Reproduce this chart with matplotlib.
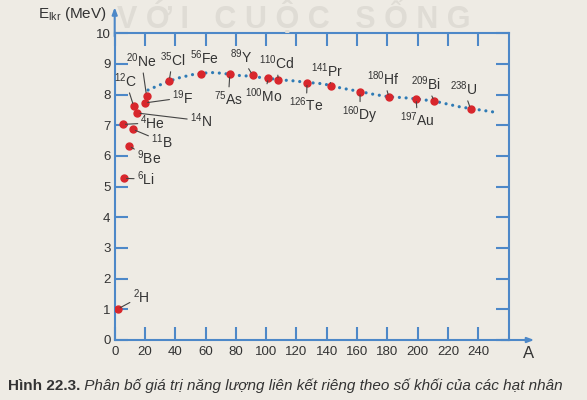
import matplotlib
matplotlib.use("Agg")
import matplotlib.pyplot as plt

plt.rcParams['font.family'] = ['Liberation Sans', 'DejaVu Sans']
plt.rcParams['mathtext.fontset'] = 'custom'
plt.rcParams['mathtext.rm'] = 'Liberation Sans'
plt.rcParams['mathtext.it'] = 'Liberation Sans:italic'

# nuclei: mass number, symbol, position (A, E in MeV)
so_khoi = ['2', '6', '9', '4', '11', '12', '14', '19', '20', '35', '56', '75',
           '89', '100', '110', '126', '141', '160', '180', '197', '209', '238']
ky_hieu = ['H', 'Li', 'Be', 'He', 'B', 'C', 'N', 'F', 'Ne', 'Cl', 'Fe', 'As',
           'Y', 'Mo', 'Cd', 'Te', 'Pr', 'Dy', 'Hf', 'Au', 'Bi', 'U']
A_pts = [2, 6, 9.4, 5.3, 12, 12.5, 15, 20, 21, 36, 57, 76,
         91, 101.5, 108, 127, 143, 162, 181, 199, 211, 235]
E_pts = [1.01, 5.27, 6.33, 7.03, 6.87, 7.63, 7.40, 7.73, 7.97, 8.46, 8.68, 8.66,
         8.64, 8.54, 8.47, 8.39, 8.29, 8.08, 7.92, 7.86, 7.79, 7.53]

# dotted trend curve
A_curve = [22, 28, 33, 41, 46, 52, 58, 64, 70, 77, 83, 91, 96, 102, 109, 116,
           127, 136, 143, 149, 162, 171, 181, 191, 199, 211, 219, 228, 236, 252]
E_curve = [8.15, 8.28, 8.38, 8.53, 8.59, 8.66, 8.70, 8.72, 8.70, 8.66, 8.62, 8.60,
           8.56, 8.53, 8.48, 8.46, 8.40, 8.36, 8.30, 8.22, 8.10, 8.01, 7.93, 7.90,
           7.86, 7.79, 7.70, 7.60, 7.54, 7.42]

x_ticks = list(range(0, 241, 20))
y_ticks = list(range(0, 11))

# label placement (text centre); Fe has no leader line
nhan_pos = {
    'H': (17.4, 1.42), 'Li': (20.5, 5.25), 'Be': (22.8, 5.93), 'He': (25.3, 7.08),
    'B': (31.3, 6.47), 'C': (7.2, 8.45), 'N': (57, 7.15), 'F': (45, 7.9),
    'Ne': (17.7, 9.1), 'Cl': (38.2, 9.14), 'Fe': (59, 9.22), 'As': (75, 7.86),
    'Y': (83.5, 9.24), 'Mo': (98.6, 7.96), 'Cd': (107, 9.03), 'Te': (126.5, 7.66),
    'Pr': (140, 8.79), 'Dy': (162, 7.33), 'Hf': (177.7, 8.52), 'Au': (200, 7.18),
    'Bi': (205.6, 8.35), 'U': (230.3, 8.19),
}

nen = '#eeebe4'
xanh = '#4d88c8'
do = '#d8262c'
chu = '#333333'

fig = plt.figure(figsize=(5.87, 4.0), dpi=100, facecolor=nen)
ax = fig.add_axes([114.7 / 587, 60 / 400, 393.8 / 587, 306.7 / 400])
ax.set_facecolor(nen)
ax.set_xlim(0, 260)
ax.set_ylim(0, 10)

# watermark
fig.text(0.5, 0.997, 'V Ớ I   C U Ộ C   S Ố N G', ha='center', va='top',
         fontsize=22, fontweight='bold', color='#dfdcd5', zorder=0)

for s in ax.spines.values():
    s.set_color(xanh)
    s.set_linewidth(1.5)

ax.set_xticks(x_ticks)
ax.set_yticks(y_ticks)
ax.tick_params(direction='in', length=9.5, width=1.5, color=xanh,
               top=True, right=True, labelsize=9.5, labelcolor=chu)
ax.tick_params(axis='x', pad=4)
ax.tick_params(axis='y', pad=3)

# axis arrows
ax.annotate('', xy=(0, 10.85), xytext=(0, 9.9), xycoords='data',
            arrowprops=dict(arrowstyle='-|>,head_length=0.4,head_width=0.15',
                            color=xanh, lw=1.5, shrinkA=0, shrinkB=0),
            annotation_clip=False)
ax.annotate('', xy=(277, 0), xytext=(255, 0), xycoords='data',
            arrowprops=dict(arrowstyle='-|>,head_length=0.4,head_width=0.15',
                            color=xanh, lw=1.5, shrinkA=0, shrinkB=0),
            annotation_clip=False)

ax.plot(A_curve, E_curve, color='#2f7bb5', lw=2.3,
        linestyle=(0, (0.01, 2.1)), dash_capstyle='round', zorder=3)
ax.plot(A_pts, E_pts, 'o', color=do, markersize=5, zorder=4)

for a, e, m, k in zip(A_pts, E_pts, so_khoi, ky_hieu):
    tx, ty = nhan_pos[k]
    props = None
    if k != 'Fe':
        props = dict(arrowstyle='-', color='#444444', lw=0.8,
                     shrinkA=0, shrinkB=2)
    ax.annotate(r'$^{' + m + r'}$' + k, xy=(a, e), xytext=(tx, ty),
                ha='center', va='center', fontsize=10, color=chu,
                arrowprops=props, annotation_clip=False, zorder=5)

fig.text(38 / 587, 1 - 14 / 400, r'E$_{\mathrm{lkr}}$ (MeV)', ha='left',
         va='center', fontsize=11, color=chu)
fig.text(529 / 587, 1 - 354 / 400, 'A', ha='center', va='center',
         fontsize=12, color=chu)

t1 = fig.text(8 / 587, 0.025, 'Hình 22.3.', ha='left', va='baseline',
              fontsize=11, fontweight='bold', color=chu)
fig.add_artist(plt.Annotation(
    ' Phân bố giá trị năng lượng liên kết riêng theo số khối của các hạt nhân',
    xy=(1, 0), xycoords=t1, va='bottom', ha='left', fontsize=11,
    fontstyle='italic', color=chu))

fig.savefig('out.png', dpi=100, facecolor=nen)
